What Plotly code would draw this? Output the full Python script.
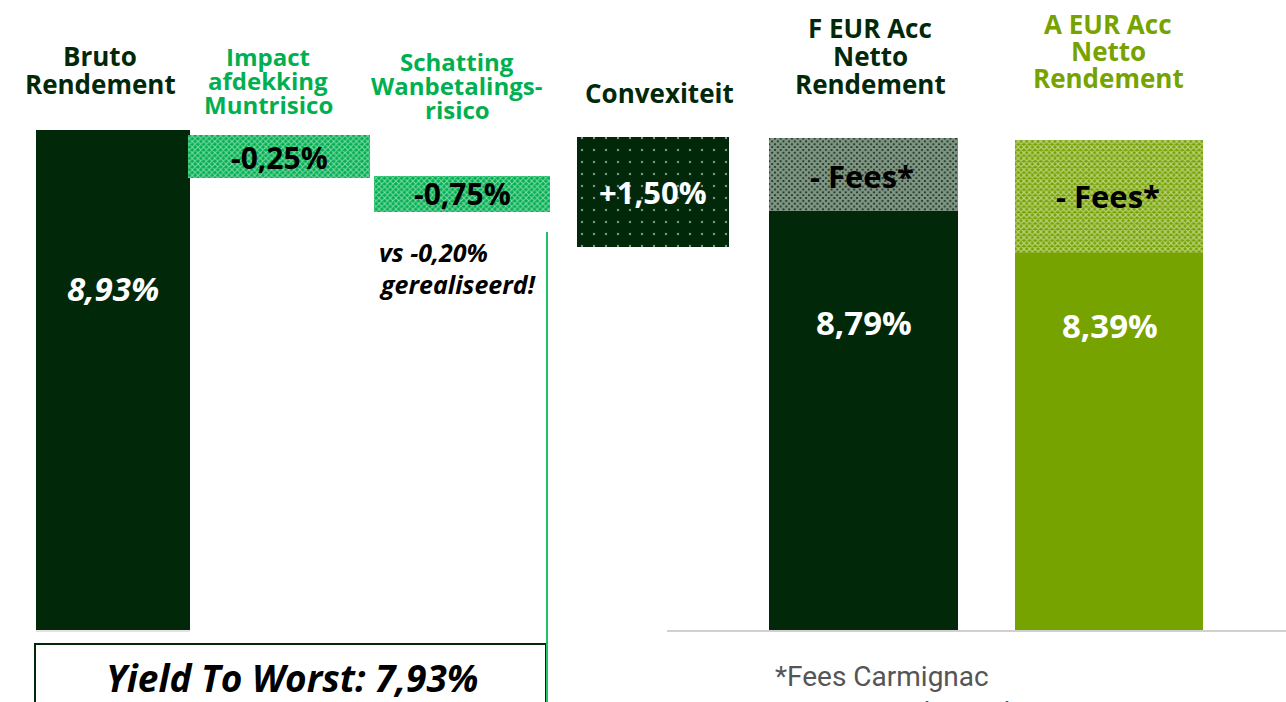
import plotly.graph_objects as go

# ---------------- data ----------------
categories = ["Bruto Rendement", "Impact afdekking Muntrisico",
              "Schatting Wanbetalingsrisico", "Convexiteit",
              "F EUR Acc Netto Rendement", "A EUR Acc Netto Rendement"]
values = [8.93, -0.25, -0.75, 1.50, 8.79, 8.39]
value_labels = ["8,93%", "-0,25%", "-0,75%", "+1,50%", "8,79%", "8,39%"]
header_lines = [["Bruto", "Rendement"],
                ["Impact", "afdekking", "Muntrisico"],
                ["Schatting", "Wanbetalings-", "risico"],
                ["Convexiteit"],
                ["F EUR Acc", "Netto", "Rendement"],
                ["A EUR Acc", "Netto", "Rendement"]]
fee_label = "- Fees*"
yield_to_worst = "Yield To Worst: 7,93%"
realised_note = ["vs -0,20%", "gerealiseerd!"]
footnote = ["*Fees Carmignac", "Share Class F EUR: 0,24%"]

# ---------------- layout geometry (slide is not drawn to scale) ----------------
W, H = 1286, 702
DARK = "#02280a"
GREEN = "#00b050"
OLIVE = "#76a300"

seg_x0 = [36, 188, 374, 577, 769, 1015]
seg_x1 = [190, 370, 550, 729, 958, 1203]
seg_top = [130, 135, 176, 137, 211, 253]
seg_bot = [630, 178, 212, 247, 630, 630]
fee_top = [None, None, None, None, 138, 140]

fig = go.Figure()

def add_bar(x0, x1, top, bot, color, pattern=None):
    fig.add_trace(go.Bar(
        x=[(x0 + x1) / 2], width=[x1 - x0], base=[bot], y=[top - bot],
        marker=dict(color=color, line=dict(width=0), pattern=pattern or {}),
        hoverinfo="skip", showlegend=False))

def checker(solidity=0.45):
    return dict(shape="x", size=4, solidity=solidity, fgcolor="white", fillmode="overlay")

styles = [
    (DARK, None),
    (GREEN, checker(0.45)),
    (GREEN, checker(0.45)),
    (DARK, dict(shape=".", size=12, solidity=0.03, fgcolor="white", fillmode="overlay")),
    (DARK, None),
    (OLIVE, None),
]
fee_solidity = [None, None, None, None, 0.8, 0.5]
for i in range(len(categories)):
    add_bar(seg_x0[i], seg_x1[i], seg_top[i], seg_bot[i], styles[i][0], styles[i][1])
    if fee_top[i] is not None:
        fg = DARK if i == 4 else OLIVE
        add_bar(seg_x0[i], seg_x1[i], fee_top[i], seg_top[i], fg, checker(fee_solidity[i]))

def txt(x, y, s, size, color, family="Open Sans", bold=True, italic=False,
        anchor="center", yanchor="middle"):
    if bold:
        s = f"<b>{s}</b>"
    if italic:
        s = f"<i>{s}</i>"
    fig.add_annotation(x=x, y=y, xref="x", yref="y", text=s, showarrow=False,
                       xanchor=anchor, yanchor=yanchor,
                       font=dict(family=family, size=size, color=color))

# headers (one annotation per line for tight line spacing)
head_x = [100, 268, 457, 659, 870, 1108]
head_y0 = [56, 56, 61, 93, 28, 24]
head_dy = [28, 24, 24, 0, 28, 27]
head_size = [26, 24, 24, 26, 26, 26]
head_col = [DARK, GREEN, GREEN, DARK, DARK, OLIVE]
for i, lines in enumerate(header_lines):
    for j, line in enumerate(lines):
        txt(head_x[i], head_y0[i] + j * head_dy[i], line, head_size[i], head_col[i])

# value labels
lab_x = [113, 279, 462, 653, 864, 1110]
lab_y = [288, 157, 193, 192, 322, 325]
lab_col = ["white", "black", "black", "white", "white", "white"]
lab_it = [True, False, False, False, False, False]
lab_size = [33, 30, 30, 31, 33, 33]
for i in range(len(categories)):
    txt(lab_x[i], lab_y[i], value_labels[i], lab_size[i], lab_col[i], italic=lab_it[i])
txt(862, 176, fee_label, 31, "black")
txt(1108, 196, fee_label, 31, "black")

txt(377, 252, realised_note[0], 25, "black", italic=True, anchor="left")
txt(377, 284, realised_note[1], 25, "black", italic=True, anchor="left")

# Yield to worst box and lines
fig.add_shape(type="rect", x0=35, x1=546, y0=644, y1=720, xref="x", yref="y",
              line=dict(color=DARK, width=2), fillcolor="rgba(0,0,0,0)")
fig.add_shape(type="line", x0=547, x1=547, y0=232, y1=702, xref="x", yref="y",
              line=dict(color="#22c46a", width=2))
fig.add_shape(type="line", x0=667, x1=1286, y0=631, y1=631, xref="x", yref="y",
              line=dict(color="#d0d0d0", width=2))
fig.add_shape(type="line", x0=36, x1=190, y0=631, y1=631, xref="x", yref="y",
              line=dict(color="#c8c8c8", width=1))
txt(292, 677, yield_to_worst, 37, "black", italic=True)

txt(773, 676, footnote[0], 28, "#555555", family="Roboto", bold=False, anchor="left")
txt(905, 694, footnote[1], 28, "#555555", family="Roboto", bold=False, anchor="left",
    yanchor="top")

fig.update_layout(
    width=W, height=H, margin=dict(l=0, r=0, t=0, b=0),
    paper_bgcolor="white", plot_bgcolor="white", barmode="overlay", bargap=0,
    xaxis=dict(range=[0, W], visible=False, fixedrange=True),
    yaxis=dict(range=[H, 0], visible=False, fixedrange=True),
)

fig.write_html("out.html", config={"displayModeBar": False},
               post_script="document.body.style.margin='0';document.body.style.overflow='hidden';")
